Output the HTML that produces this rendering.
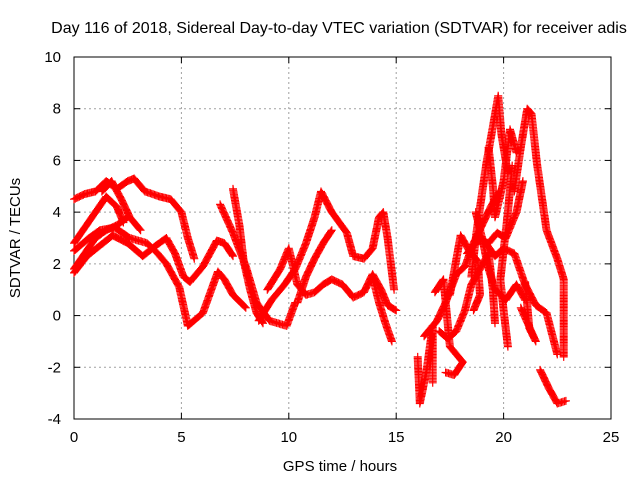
<!DOCTYPE html>
<html><head><meta charset="utf-8"><style>
body{margin:0;background:#fff}
svg{display:block;font-family:"Liberation Sans",sans-serif}
</style></head><body>
<svg id="c" width="640" height="480"></svg>
<script>
const xTicks=[0,5,10,15,20,25];
const yTicks=[-4,-2,0,2,4,6,8,10];
const trackA=[[0,4.5],[0.5,4.7],[1,4.8],[1.5,5.2],[2,4.9],[2.5,5.2],[2.8,5.3],[3.3,4.8],[4,4.6],[4.5,4.5],[5,4.0],[5.3,3.0],[5.6,2.2]];
const trackB=[[1.3,4.8],[1.75,5.2],[2.2,4.5],[2.6,3.8],[3.1,3.3]];
const trackC=[[0,2.8],[0.5,3.4],[1,4.0],[1.5,4.6],[2,4.2],[2.3,3.6]];
const trackD=[[0,1.65],[0.6,2.3],[1.2,2.7],[1.8,3.1],[2.5,2.8],[3.2,2.3],[3.8,2.7],[4.3,3.0],[4.7,2.4],[5.1,1.5],[5.4,1.3],[6,1.9],[6.65,2.9],[7,2.8],[7.4,2.3]];
const trackE=[[0,2.5],[0.7,3.0],[1.2,3.3],[1.9,3.4],[2.6,3.0],[3.4,2.8],[3.9,2.4],[4.3,2.0],[4.9,1.1],[5.3,-0.4],[6.0,0.1],[6.7,1.7],[7.0,1.4],[7.4,0.8],[8.0,0.3]];
const trackF=[[0,1.8],[0.5,2.4],[1,3.0],[1.5,3.3],[2,3.5],[2.5,3.8]];
const trackG=[[7.4,4.9],[7.7,3.5],[7.9,2.1],[8.2,1.0],[8.5,0.1],[8.8,-0.3]];
const trackH=[[6.8,4.3],[7.4,3.2],[8.0,1.9],[8.5,0.5],[9.1,-0.2],[9.9,-0.4],[10.3,0.5]];
const trackI=[[8.6,-0.2],[9.2,0.6],[9.8,1.2],[10.3,1.8],[10.8,2.8],[11.2,3.8],[11.5,4.8],[12.0,4.0],[12.7,3.2],[13.0,2.3],[13.5,2.2],[13.9,2.6],[14.2,3.8],[14.4,4.0],[14.6,3.0],[14.9,1.0]];
const trackJ=[[9.0,1.0],[9.6,1.8],[10.0,2.6],[10.4,1.2],[10.8,0.8],[11.2,0.9],[11.6,1.2],[12.0,1.4],[12.5,1.2],[13.0,0.7],[13.5,0.9],[13.9,1.6],[14.3,1.0],[14.6,0.4],[15.0,0.2]];
const trackK=[[13.9,1.5],[14.2,0.5],[14.5,-0.3],[14.8,-1.0]];
const trackL=[[10.4,0.5],[10.8,1.5],[11.2,2.2],[11.6,2.8],[12.0,3.3]];
const trackM=[[16.0,-1.6],[16.1,-3.4],[16.4,-2.2],[16.7,-0.4],[16.7,-2.6]];
const trackN=[[16.8,0.9],[17.2,1.4],[17.5,-1.2],[18.1,-1.8],[17.7,-2.3],[17.3,-2.2]];
const trackO=[[17.5,0.8],[18.0,3.1],[18.4,2.5],[18.8,2.1],[18.9,0.8],[18.6,0.2]];
const trackP=[[18.5,1.5],[18.75,3.3],[19.2,5.9],[19.5,7.3],[19.75,8.5],[19.9,7.0],[20.2,5.5]];
const trackQ=[[20.4,5.8],[20.2,4.0],[19.85,1.4],[20.0,0.2],[20.2,-1.2]];
const trackR=[[19.0,3.0],[19.6,2.3],[20.0,2.6],[20.5,2.4],[21.0,1.2],[21.5,0.4],[22.0,0.1],[22.5,-1.5]];
const trackS=[[20.5,4.8],[20.8,6.5],[21.1,8.0],[21.3,7.8],[21.55,5.9],[22.0,3.3],[22.5,2.2],[22.8,1.4],[22.8,0.2],[22.8,-1.6]];
const trackT=[[21.7,-2.1],[22.1,-2.8],[22.5,-3.4],[22.9,-3.3]];
const trackU=[[18.3,2.4],[18.8,2.9],[19.3,2.8],[19.7,3.2],[20.1,3.0],[20.6,4.0],[20.9,5.2]];
const trackV=[[21.0,1.3],[21.2,-0.5],[21.5,-1.0],[20.8,0.3]];
const trackW=[[16.3,-0.8],[16.9,-0.2],[17.3,0.5],[17.8,1.6],[18.2,1.9],[18.6,2.8],[19.0,3.5],[19.4,4.2],[19.8,4.8]];
const trackX=[[17.0,-0.6],[17.4,-0.9],[17.8,-0.6],[18.2,0.2],[18.5,1.2],[18.9,1.8],[19.3,2.4],[19.5,1.0],[19.6,-0.3]];
const trackY=[[18.7,4.0],[19.0,3.0],[19.3,1.8],[19.6,1.0],[20.1,0.6],[20.6,1.2],[21.0,0.6]];
const trackZ=[[19.3,6.5],[19.5,5.0],[19.6,3.8],[20.0,5.2],[20.3,7.2],[20.6,6.3]];
const tracks=[trackA,trackB,trackC,trackD,trackE,trackF,trackG,trackH,trackI,trackJ,trackK,trackL,trackM,trackN,trackO,trackP,trackQ,trackR,trackS,trackT,trackU,trackV,trackW,trackX,trackY,trackZ];

const L=74,R=611,T=57,B=419;
const sx=v=>L+(v-0)/25*(R-L);
const sy=v=>B-(v+4)/14*(B-T);
const NS='http://www.w3.org/2000/svg';
const svg=document.getElementById('c');
function mk(t,a,p){const e=document.createElementNS(NS,t);for(const k in a)e.setAttribute(k,a[k]);(p||svg).appendChild(e);return e;}

const gGrid=mk('g',{});


xTicks.forEach(v=>{
  if(v>0&&v<25) mk('line',{x1:sx(v),x2:sx(v),y1:T,y2:B,stroke:'#a0a0a0','stroke-dasharray':'2,3'},gGrid);
  mk('line',{x1:sx(v),x2:sx(v),y1:B,y2:B-6,stroke:'#000'},gGrid);
  mk('line',{x1:sx(v),x2:sx(v),y1:T,y2:T+6,stroke:'#000'},gGrid);
  const t=mk('text',{x:sx(v),y:B+23,'text-anchor':'middle','font-size':15});
  t.textContent=v;
  
  
});
yTicks.forEach(v=>{
  if(v>-4&&v<10) mk('line',{x1:L,x2:R,y1:sy(v),y2:sy(v),stroke:'#a0a0a0','stroke-dasharray':'2,3'},gGrid);
  mk('line',{x1:L,x2:L+6,y1:sy(v),y2:sy(v),stroke:'#000'},gGrid);
  mk('line',{x1:R,x2:R-6,y1:sy(v),y2:sy(v),stroke:'#000'},gGrid);
  const t=mk('text',{x:L-13,y:sy(v)+5,'text-anchor':'end','font-size':15});
  t.textContent=v;
  
  
});
const frame=mk('rect',{x:L,y:T,width:R-L,height:B-T,fill:'none',stroke:'#000'});



const gData=mk('g',{});


tracks.forEach(tr=>{
  let d='';
  for(let i=0;i<tr.length-1;i++){
    const x0=sx(tr[i][0]),y0=sy(tr[i][1]),x1=sx(tr[i+1][0]),y1=sy(tr[i+1][1]);
    const n=Math.max(1,Math.ceil(Math.hypot(x1-x0,y1-y0)/1.5));
    for(let k=0;k<=n;k++){
      const x=x0+(x1-x0)*k/n,y=y0+(y1-y0)*k/n;
      d+=`M${(x-4).toFixed(1)} ${y.toFixed(1)}h8M${x.toFixed(1)} ${(y-4).toFixed(1)}v8`;
    }
  }
  const p=mk('path',{d:d,stroke:'#ff0000','stroke-width':1.2,fill:'none'},gData);
  
  
});

const title=mk('text',{x:339,y:33,'text-anchor':'middle','font-size':16});
title.textContent='Day 116 of 2018, Sidereal Day-to-day VTEC variation (SDTVAR) for receiver adis';


const xl=mk('text',{x:340,y:471,'text-anchor':'middle','font-size':15});
xl.textContent='GPS time / hours';


const yl=mk('text',{x:0,y:0,'text-anchor':'middle','font-size':15,transform:'translate(20,238) rotate(-90)'});
yl.textContent='SDTVAR / TECUs';


</script>
</body></html>
